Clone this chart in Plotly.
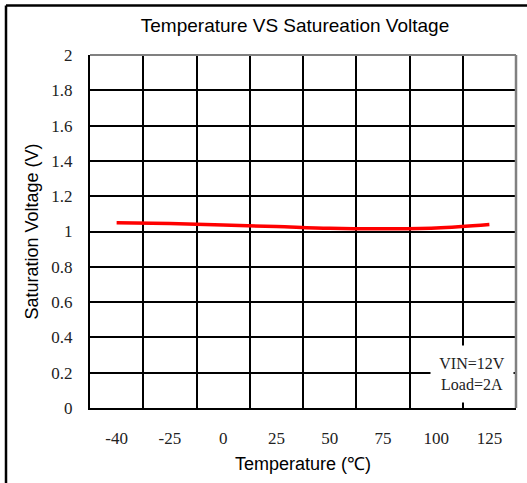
import plotly.graph_objects as go

temps = ["-40", "-25", "0", "25", "50", "75", "100", "125"]
sat_voltage = [1.05, 1.045, 1.037, 1.028, 1.018, 1.015, 1.02, 1.04]
y_ticks = [0, 0.2, 0.4, 0.6, 0.8, 1, 1.2, 1.4, 1.6, 1.8, 2]
y_labels = ["0", "0.2", "0.4", "0.6", "0.8", "1", "1.2", "1.4", "1.6", "1.8", "2"]

W, H = 527, 483
L, R, T, B = 90, 11, 55, 75
pw, ph = W - L - R, H - T - B

def px(x):
    return (x - L) / pw

def py(y):
    return (H - B - y) / ph

serif = "Liberation Serif"
sans = "Liberation Sans"

fig = go.Figure()
fig.add_trace(go.Scatter(
    x=temps, y=sat_voltage, mode="lines",
    line=dict(color="#ff0000", width=3.5, shape="spline"),
    showlegend=False, hoverinfo="skip",
))

fig.update_layout(
    width=W, height=H,
    margin=dict(l=L, r=R, t=T, b=B),
    paper_bgcolor="white", plot_bgcolor="white",
    title=dict(text="Temperature VS Satureation Voltage",
               x=px(295), xref="paper", xanchor="center",
               y=1 - 25 / H, yref="container", yanchor="middle",
               font=dict(family=sans, size=19, color="black")),
    xaxis=dict(
        type="category", range=[-0.5, 7.5], tickson="boundaries",
        showgrid=True, gridcolor="black", gridwidth=1.5,
        showline=True, linecolor="black", linewidth=2,
        ticks="", ticklabelstandoff=14,
        tickfont=dict(family=serif, size=17, color="#222222"),
        title=dict(text="Temperature (℃)", standoff=10,
                   font=dict(family=sans, size=18, color="black")),
        zeroline=False, automargin=False,
    ),
    yaxis=dict(
        range=[0, 2], tickvals=y_ticks, ticktext=y_labels,
        showgrid=True, gridcolor="black", gridwidth=1.5,
        showline=True, linecolor="black", linewidth=2,
        ticks="", ticklabelstandoff=12,
        tickfont=dict(family=serif, size=17, color="#222222"),
        title=dict(text="Saturation Voltage (V)", standoff=8,
                   font=dict(family=sans, size=18, color="black")),
        zeroline=False, automargin=False,
    ),
    shapes=[
        # gray top and right frame of plot area
        dict(type="line", xref="paper", yref="paper", x0=0, x1=1, y0=1, y1=1,
             line=dict(color="#808080", width=2)),
        dict(type="line", xref="paper", yref="paper", x0=1, x1=1, y0=0, y1=1,
             line=dict(color="#808080", width=2.5)),
        # outer frame top and left
        dict(type="line", xref="paper", yref="paper", x0=px(6), x1=px(W + 5),
             y0=py(5.5), y1=py(5.5), line=dict(color="black", width=2.5)),
        dict(type="line", xref="paper", yref="paper", x0=px(6), x1=px(6),
             y0=py(5.5), y1=py(H + 5), line=dict(color="black", width=2.5)),
    ],
    annotations=[
        dict(text="VIN=12V<br>Load=2A", xref="paper", yref="paper",
             x=px(472), y=py(374), xanchor="center", yanchor="middle",
             showarrow=False, align="center", bgcolor="white",
             width=80, height=54,
             font=dict(family=serif, size=16, color="#222222")),
    ],
)

fig.write_html("out.html", config={"displayModeBar": False},
               post_script="document.body.style.margin='0';document.body.style.overflow='hidden';")
